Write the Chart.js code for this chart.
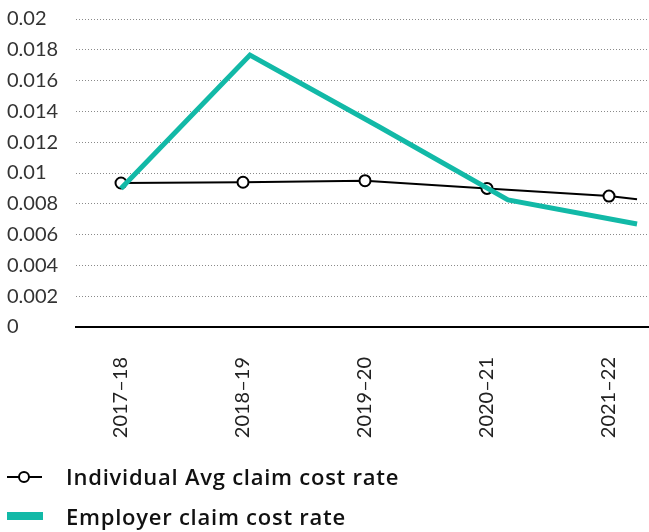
<!DOCTYPE html>
<html>
<head>
<meta charset="utf-8">
<script src="https://cdn.jsdelivr.net/npm/chart.js@4.4.0/dist/chart.umd.min.js"></script>
<style>
  html, body { margin: 0; padding: 0; background: #fff; }
  #wrap { position: relative; width: 649px; height: 532px; }
  #legend { position: absolute; left: 0; top: 0; width: 649px; height: 532px; font-family: "Open Sans", sans-serif; font-weight: 600; font-size: 22px; letter-spacing: 0.75px; color: #111; pointer-events: none; }
  .t { position: absolute; left: 66px; white-space: nowrap; line-height: 30px; }
  .ln { position: absolute; left: 7px; width: 35px; height: 2px; background: #000; top: 476px; }
  .dot { position: absolute; left: 18px; top: 471px; width: 8px; height: 8px; border: 2px solid #000; border-radius: 50%; background: #fff; }
  .bar { position: absolute; left: 7px; width: 36px; height: 8px; background: #12b9a7; top: 512px; }
</style>
</head>
<body>
<div id="wrap">
  <canvas id="c" width="649" height="532"></canvas>
  <div id="legend">
    <div class="ln"></div><div class="dot"></div><span class="t" style="top:461px">Individual Avg claim cost rate</span>
    <div class="bar"></div><span class="t" style="top:501px">Employer claim cost rate</span>
  </div>
</div>
<script>
// Category labels (x axis)
const categories = ['2017\u201318', '2018\u201319', '2019\u201320', '2020\u201321', '2021\u201322'];
// Individual Avg claim cost rate: category positions (last point is the trailing line end)
const individualX = [0, 1, 2, 3, 4, 4.23];
const individualValues = [0.00935, 0.0094, 0.0095, 0.0090, 0.0085, 0.0083];
// Employer claim cost rate (drawn on a slightly wider spacing in the source)
const employerX = [0, 1.057, 2.115, 3.172, 4.23];
const employerValues = [0.0090, 0.01766, 0.0130, 0.00825, 0.00669];
// Y tick labels
const yTicks = [0, 0.002, 0.004, 0.006, 0.008, 0.01, 0.012, 0.014, 0.016, 0.018, 0.02];

const toPts = (xs, ys) => xs.map((x, i) => ({ x: x, y: ys[i] }));

new Chart(document.getElementById('c'), {
  type: 'line',
  data: {
    datasets: [
      {
        label: 'Employer claim cost rate',
        data: toPts(employerX, employerValues),
        borderColor: '#12b9a7',
        backgroundColor: '#12b9a7',
        borderWidth: 5,
        pointRadius: 0,
        tension: 0,
        borderJoinStyle: 'miter'
      },
      {
        label: 'Individual Avg claim cost rate',
        data: toPts(individualX, individualValues),
        borderColor: '#000',
        backgroundColor: '#fff',
        borderWidth: 2,
        pointRadius: individualX.map((x, i) => i < categories.length ? 5.5 : 0),
        pointBorderWidth: 2,
        pointBorderColor: '#000',
        pointBackgroundColor: '#fff',
        tension: 0
      }
    ]
  },
  options: {
    responsive: false,
    animation: false,
    layout: { autoPadding: false, padding: { left: 7, right: 0, top: 19, bottom: 0 } },
    plugins: { legend: { display: false }, tooltip: { enabled: false } },
    scales: {
      x: {
        type: 'linear',
        min: -0.369,
        max: 4.328,
        afterBuildTicks: (s) => { s.ticks = categories.map((c, i) => ({ value: i })); },
        afterFit: (s) => { s.height = 532 - 327; s.paddingLeft = 0; s.paddingRight = 0; },
        grid: { display: false },
        border: { display: true, color: '#000', width: 2 },
        ticks: {
          autoSkip: false,
          minRotation: 90,
          maxRotation: 90,
          padding: 22,
          color: '#222',
          font: { family: 'Lato', size: 20, weight: 400 },
          callback: (v) => categories[v] !== undefined ? categories[v] : ''
        }
      },
      y: {
        min: 0,
        max: 0.02,
        afterBuildTicks: (s) => { s.ticks = yTicks.map(v => ({ value: v })); },
        afterFit: (s) => { s.width = 69; s.paddingTop = 0; s.paddingBottom = 0; },
        grid: { color: '#8a8a8a', lineWidth: 1, drawTicks: false },
        border: { display: false, dash: [1, 2] },
        ticks: {
          crossAlign: 'far',
          padding: 10,
          color: '#333',
          font: { family: 'Lato', size: 20, weight: 400 },
          callback: (v) => String(Number(v.toFixed(3)))
        }
      }
    }
  }
});
</script>
</body>
</html>
